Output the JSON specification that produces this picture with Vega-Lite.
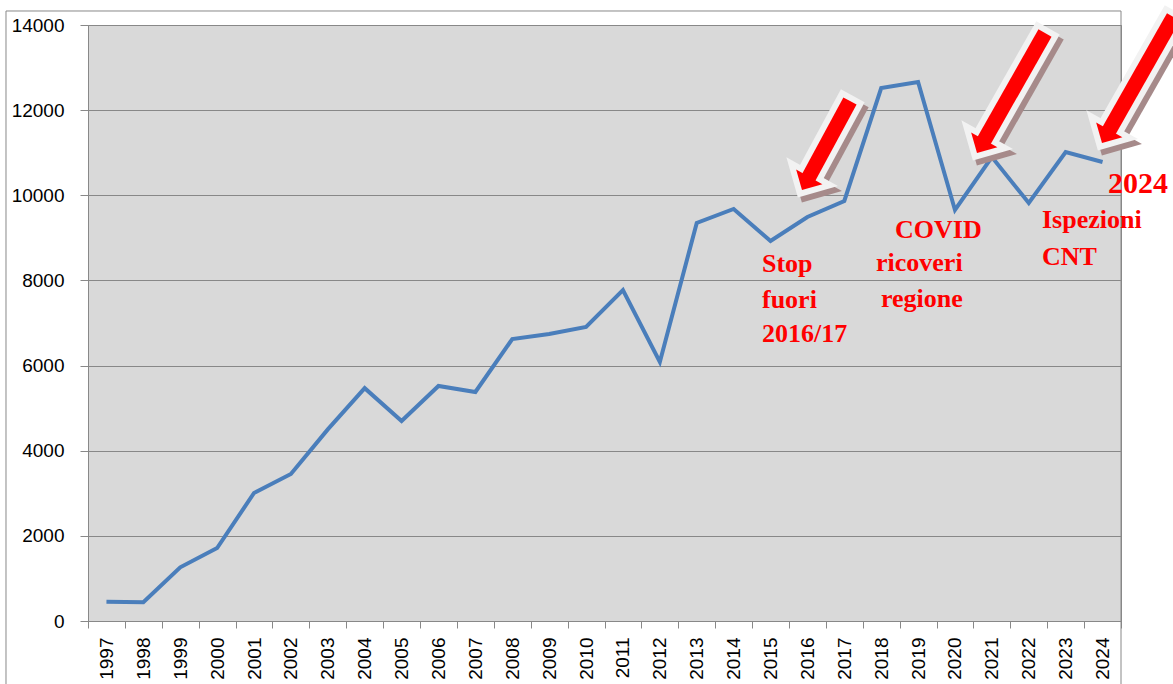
{
  "$schema": "https://vega.github.io/schema/vega-lite/v6.json",
  "width": 1033,
  "height": 596,
  "autosize": "none",
  "padding": {"left": 88, "top": 25, "right": 52, "bottom": 63},
  "background": "white",
  "config": {
    "view": {"fill": "#d9d9d9", "stroke": "#888888", "strokeWidth": 1},
    "axis": {
      "domainColor": "#888888",
      "tickColor": "#888888",
      "gridColor": "#888888",
      "gridOpacity": 1,
      "labelColor": "black",
      "labelFont": "Liberation Sans",
      "labelFontSize": 19,
      "title": null
    }
  },
  "datasets": {
    "series": [
      {"year": "1997", "value": 453},
      {"year": "1998", "value": 439},
      {"year": "1999", "value": 1261},
      {"year": "2000", "value": 1715},
      {"year": "2001", "value": 3007},
      {"year": "2002", "value": 3453},
      {"year": "2003", "value": 4500},
      {"year": "2004", "value": 5470},
      {"year": "2005", "value": 4700},
      {"year": "2006", "value": 5520},
      {"year": "2007", "value": 5380},
      {"year": "2008", "value": 6624},
      {"year": "2009", "value": 6740},
      {"year": "2010", "value": 6906},
      {"year": "2011", "value": 7775},
      {"year": "2012", "value": 6084},
      {"year": "2013", "value": 9349},
      {"year": "2014", "value": 9678},
      {"year": "2015", "value": 8926},
      {"year": "2016", "value": 9490},
      {"year": "2017", "value": 9866},
      {"year": "2018", "value": 12520},
      {"year": "2019", "value": 12661},
      {"year": "2020", "value": 9654},
      {"year": "2021", "value": 10899},
      {"year": "2022", "value": 9819},
      {"year": "2023", "value": 11017},
      {"year": "2024", "value": 10782}
    ],
    "arrows": [
      {"wx": 2017.230, "wy": 12339, "rx": 2017.154, "ry": 12215, "nx": 2015.967, "ny": 10312, "tx": 2015.853, "ty": 10124},
      {"wx": 2022.521, "wy": 13934, "rx": 2022.440, "ry": 13812, "nx": 2020.716, "ny": 11176, "tx": 2020.597, "ty": 10993},
      {"wx": 2026.004, "wy": 14310, "rx": 2025.923, "ry": 14188, "nx": 2024.104, "ny": 11411, "tx": 2023.985, "ty": 11228}
    ],
    "notes": [
      {"x": 2014.769, "y": 8198, "text": "Stop"},
      {"x": 2014.769, "y": 7352, "text": "fuori"},
      {"x": 2014.769, "y": 6554, "text": "2016/17"},
      {"x": 2018.374, "y": 8997, "text": "COVID"},
      {"x": 2017.859, "y": 8221, "text": "ricoveri"},
      {"x": 2017.994, "y": 7376, "text": "regione"},
      {"x": 2022.358, "y": 9231, "text": "Ispezioni"},
      {"x": 2022.358, "y": 8362, "text": "CNT"}
    ],
    "big": [
      {"x": 2024.147, "y": 10054, "text": "2024"}
    ],
    "frame": [
      {"x1": 1994.277, "x2": 2024.5, "y1": -1856, "y2": 14329}
    ]
  },
  "layer": [
    {
      "data": {"name": "series"},
      "mark": {"type": "line", "color": "#4a7ebb", "strokeWidth": 4},
      "encoding": {
        "x": {
          "field": "year",
          "type": "ordinal",
          "sort": null,
          "scale": {"type": "band", "paddingInner": 0, "paddingOuter": 0},
          "axis": {
            "labelAngle": 270,
            "tickBand": "extent",
            "tickSize": 7,
            "labelPadding": 9,
            "grid": false
          }
        },
        "y": {
          "field": "value",
          "type": "quantitative",
          "scale": {"domain": [0, 14000], "nice": false},
          "axis": {
            "values": [0, 2000, 4000, 6000, 8000, 10000, 12000, 14000],
            "grid": true,
            "tickSize": 8,
            "labelPadding": 16,
            "format": "d"
          }
        }
      }
    },
    {
      "data": {"name": "frame"},
      "mark": {"type": "rect", "fill": null, "fillOpacity": 0, "stroke": "#888888", "strokeWidth": 1},
      "encoding": {
        "x": {"field": "x1", "type": "quantitative", "scale": {"domain": [1996.5, 2024.5], "nice": false, "zero": false}, "axis": null},
        "x2": {"field": "x2"},
        "y": {"field": "y1", "type": "quantitative", "scale": {"domain": [0, 14000], "nice": false}, "axis": null},
        "y2": {"field": "y2"}
      }
    },
    {
      "data": {"name": "arrows"},
      "mark": {"type": "rule", "color": "#a68a8a", "strokeWidth": 27, "strokeCap": "butt", "xOffset": 4, "x2Offset": 4, "yOffset": 5, "y2Offset": 5},
      "encoding": {
        "x": {"field": "wx", "type": "quantitative", "scale": {"domain": [1996.5, 2024.5], "nice": false, "zero": false}, "axis": null},
        "x2": {"field": "nx"},
        "y": {"field": "wy", "type": "quantitative", "scale": {"domain": [0, 14000], "nice": false}, "axis": null},
        "y2": {"field": "ny"}
      }
    },
    {
      "data": {"name": "arrows"},
      "mark": {"type": "point", "shape": "M0,0L1,1L-1,1Z", "size": 900, "angle": 209, "filled": true, "fill": "#a68a8a", "stroke": "#a68a8a", "strokeWidth": 12, "strokeJoin": "miter", "opacity": 1, "xOffset": 4, "yOffset": 5},
      "encoding": {
        "x": {"field": "tx", "type": "quantitative", "scale": {"domain": [1996.5, 2024.5], "nice": false, "zero": false}, "axis": null},
        "y": {"field": "ty", "type": "quantitative", "scale": {"domain": [0, 14000], "nice": false}, "axis": null}
      }
    },
    {
      "data": {"name": "arrows"},
      "mark": {"type": "rule", "color": "#f2f2f2", "strokeWidth": 27, "strokeCap": "butt"},
      "encoding": {
        "x": {"field": "wx", "type": "quantitative", "scale": {"domain": [1996.5, 2024.5], "nice": false, "zero": false}, "axis": null},
        "x2": {"field": "nx"},
        "y": {"field": "wy", "type": "quantitative", "scale": {"domain": [0, 14000], "nice": false}, "axis": null},
        "y2": {"field": "ny"}
      }
    },
    {
      "data": {"name": "arrows"},
      "mark": {"type": "point", "shape": "M0,0L1,1L-1,1Z", "size": 900, "angle": 209, "filled": true, "fill": "#f2f2f2", "stroke": "#f2f2f2", "strokeWidth": 12, "strokeJoin": "miter", "opacity": 1},
      "encoding": {
        "x": {"field": "tx", "type": "quantitative", "scale": {"domain": [1996.5, 2024.5], "nice": false, "zero": false}, "axis": null},
        "y": {"field": "ty", "type": "quantitative", "scale": {"domain": [0, 14000], "nice": false}, "axis": null}
      }
    },
    {
      "data": {"name": "arrows"},
      "mark": {"type": "point", "shape": "M0,0L1,1L-1,1Z", "size": 900, "angle": 209, "filled": true, "fill": "#ff0000", "strokeWidth": 0, "opacity": 1},
      "encoding": {
        "x": {"field": "tx", "type": "quantitative", "scale": {"domain": [1996.5, 2024.5], "nice": false, "zero": false}, "axis": null},
        "y": {"field": "ty", "type": "quantitative", "scale": {"domain": [0, 14000], "nice": false}, "axis": null}
      }
    },
    {
      "data": {"name": "arrows"},
      "mark": {"type": "rule", "color": "#ff0000", "strokeWidth": 15, "strokeCap": "butt"},
      "encoding": {
        "x": {"field": "rx", "type": "quantitative", "scale": {"domain": [1996.5, 2024.5], "nice": false, "zero": false}, "axis": null},
        "x2": {"field": "nx"},
        "y": {"field": "ry", "type": "quantitative", "scale": {"domain": [0, 14000], "nice": false}, "axis": null},
        "y2": {"field": "ny"}
      }
    },
    {
      "data": {"name": "notes"},
      "mark": {"type": "text", "font": "Liberation Serif", "fontWeight": "bold", "fontSize": 26, "color": "#ff0000", "align": "left", "baseline": "alphabetic"},
      "encoding": {
        "x": {"field": "x", "type": "quantitative", "scale": {"domain": [1996.5, 2024.5], "nice": false, "zero": false}, "axis": null},
        "y": {"field": "y", "type": "quantitative", "scale": {"domain": [0, 14000], "nice": false}, "axis": null},
        "text": {"field": "text"}
      }
    },
    {
      "data": {"name": "big"},
      "mark": {"type": "text", "font": "Liberation Serif", "fontWeight": "bold", "fontSize": 30, "color": "#ff0000", "align": "left", "baseline": "alphabetic"},
      "encoding": {
        "x": {"field": "x", "type": "quantitative", "scale": {"domain": [1996.5, 2024.5], "nice": false, "zero": false}, "axis": null},
        "y": {"field": "y", "type": "quantitative", "scale": {"domain": [0, 14000], "nice": false}, "axis": null},
        "text": {"field": "text"}
      }
    }
  ],
  "resolve": {"scale": {"x": "independent"}, "axis": {"y": "independent"}}
}
